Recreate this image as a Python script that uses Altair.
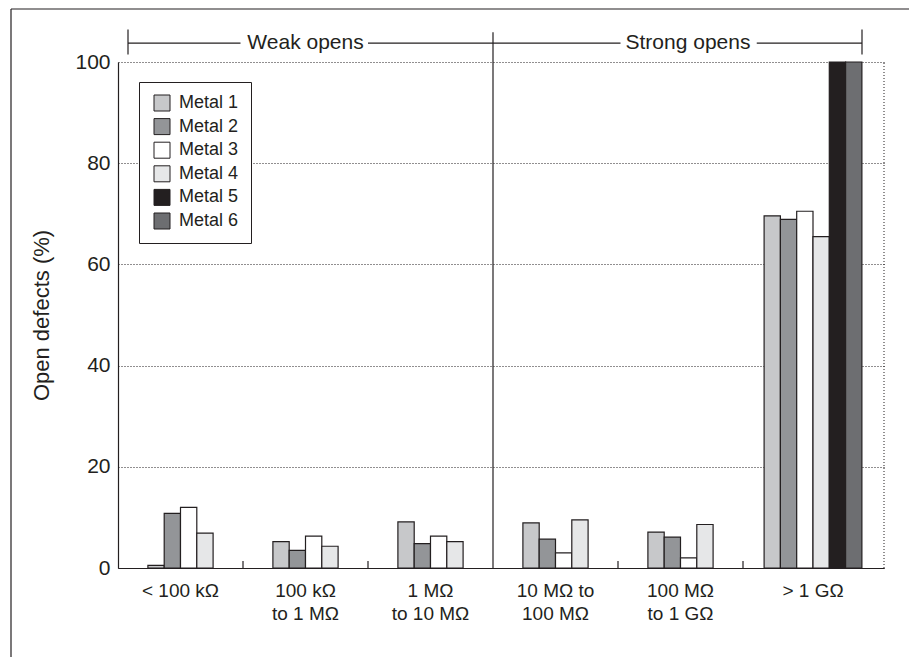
import altair as alt
import pandas as pd

# ---------------- data ----------------
categories = ["< 100 kΩ", "100 kΩ\nto 1 MΩ", "1 MΩ\nto 10 MΩ",
              "10 MΩ to\n100 MΩ", "100 MΩ\nto 1 GΩ", "> 1 GΩ"]
metals = ["Metal 1", "Metal 2", "Metal 3", "Metal 4", "Metal 5", "Metal 6"]
metal1 = [0.5, 5.2, 9.1, 8.9, 7.1, 69.6]
metal2 = [10.8, 3.5, 4.8, 5.7, 6.1, 68.9]
metal3 = [12.0, 6.3, 6.3, 3.0, 2.0, 70.5]
metal4 = [6.9, 4.3, 5.2, 9.5, 8.6, 65.5]
metal5 = [None, None, None, None, None, 100.0]
metal6 = [None, None, None, None, None, 100.0]
colors = ["#c7c8ca", "#939598", "#ffffff", "#e6e7e8", "#231f20", "#6d6e71"]
groups = ["Weak opens", "Strong opens"]
y_ticks = [0, 20, 40, 60, 80, 100]

# ---------------- layout ----------------
INK = "#231f20"
FONT = "Liberation Sans"
W, H = 766, 506
X_MAX = 6.128
centers = [0.5, 1.5, 2.5, 3.5, 4.5, 5.56]
bw = 0.1304

series = [metal1, metal2, metal3, metal4, metal5, metal6]
rows = []
for gi, cat in enumerate(categories):
    present = [(mi, s[gi]) for mi, s in enumerate(series) if s[gi] is not None]
    n = len(present)
    for k, (mi, v) in enumerate(present):
        x0 = centers[gi] + (k - n / 2) * bw
        rows.append({"cat": cat, "metal": metals[mi], "value": v,
                     "x0": x0, "x1": x0 + bw, "order": mi})
bars_df = pd.DataFrame(rows)

xscale = alt.Scale(domain=[0, X_MAX], nice=False, zero=False)
yscale = alt.Scale(domain=[0, 100], nice=False)

bars = alt.Chart(bars_df).mark_rect(stroke=INK, strokeWidth=1.2).encode(
    x=alt.X("x0:Q", scale=xscale,
            axis=alt.Axis(labels=False, ticks=False, grid=False, title=None,
                          domainColor=INK, domainWidth=1.2)),
    x2="x1:Q",
    y=alt.Y("value:Q", scale=yscale,
            axis=alt.Axis(values=y_ticks, grid=True, gridDash=[1, 2],
                          gridColor=INK, gridWidth=1, ticks=False,
                          domainColor=INK, domainWidth=1.2,
                          labelFontSize=21, labelPadding=8, labelColor=INK,
                          title="Open defects (%)", titleFontSize=22,
                          titleFontWeight="normal", titleColor=INK,
                          titleX=-77, titleY=H / 2, titleAngle=270,
                          titleBaseline="middle")),
    y2=alt.datum(0),
    color=alt.Color("metal:N", scale=alt.Scale(domain=metals, range=colors),
                    legend=alt.Legend(title=None, orient="none",
                                      legendX=21, legendY=20,
                                      fillColor="white", strokeColor=INK,
                                      padding=12, symbolType="square",
                                      symbolSize=256, symbolStrokeColor=INK,
                                      symbolStrokeWidth=1, symbolOpacity=1,
                                      symbolOffset=2,
                                      labelFontSize=18, labelColor=INK,
                                      labelOffset=8, rowPadding=3.6)),
)

# category labels
lab_df = pd.DataFrame({"cat": categories, "xc": centers})
labels = alt.Chart(lab_df).mark_text(
    baseline="top", align="center", fontSize=19, lineHeight=23,
    lineBreak="\n", color=INK
).encode(x=alt.X("xc:Q", scale=xscale), y=alt.value(H + 14), text="cat:N")

# inner group tick marks on x axis
tick_df = pd.DataFrame({"xt": [1, 2, 4, 5]})
ticks = alt.Chart(tick_df).mark_rule(color=INK, strokeWidth=1.2).encode(
    x=alt.X("xt:Q", scale=xscale), y=alt.value(H), y2=alt.value(H - 7))

# divider between weak and strong opens
divider = alt.Chart(pd.DataFrame({"xd": [3.0], "y0": [0], "y1": [105.9]})).mark_rule(
    color=INK, strokeWidth=1.2).encode(
    x=alt.X("xd:Q", scale=xscale), y=alt.Y("y0:Q", scale=yscale), y2="y1:Q")

# dotted right border
rborder = alt.Chart(pd.DataFrame({"xr": [X_MAX], "y0": [0], "y1": [100]})).mark_rule(
    color=INK, strokeWidth=1, strokeDash=[1, 2]).encode(
    x=alt.X("xr:Q", scale=xscale), y=alt.Y("y0:Q", scale=yscale), y2="y1:Q")

# bracket with group titles
seg_df = pd.DataFrame({"a": [0.08, 2.0, 5.11], "b": [0.98, 4.02, 5.952],
                       "y": [103.75] * 3})
segs = alt.Chart(seg_df).mark_rule(color=INK, strokeWidth=1.2).encode(
    x=alt.X("a:Q", scale=xscale), x2="b:Q", y=alt.Y("y:Q", scale=yscale))
cap_df = pd.DataFrame({"xc": [0.08, 5.952], "y0": [101.5, 101.5],
                       "y1": [106.4, 106.4]})
caps = alt.Chart(cap_df).mark_rule(color=INK, strokeWidth=1.2).encode(
    x=alt.X("xc:Q", scale=xscale), y=alt.Y("y0:Q", scale=yscale), y2="y1:Q")
grp_df = pd.DataFrame({"g": groups, "xg": [1.5, 4.56], "y": [103.75, 103.75]})
grp_text = alt.Chart(grp_df).mark_text(
    fontSize=21, color=INK, baseline="middle", align="center").encode(
    x=alt.X("xg:Q", scale=xscale), y=alt.Y("y:Q", scale=yscale), text="g:N")

# outer frame (top and left edges)
frame_top = alt.Chart(pd.DataFrame({"k": [0]})).mark_rule(
    color=INK, strokeWidth=1.2).encode(
    x=alt.value(-107), x2=alt.value(W + 40), y=alt.value(-53))
frame_left = alt.Chart(pd.DataFrame({"k": [0]})).mark_rule(
    color=INK, strokeWidth=1.2).encode(
    x=alt.value(-107), y=alt.value(-53), y2=alt.value(H + 100))

chart = alt.layer(
    rborder, bars, ticks, divider, segs, caps, grp_text, labels,
    frame_top, frame_left
).properties(
    width=W, height=H,
    autosize=alt.AutoSizeParams(type="none"),
    padding={"left": 110, "top": 54, "right": 25, "bottom": 89},
).configure(font=FONT).configure_view(stroke=None)

chart.save("out.html", embed_options={"renderer": "svg", "actions": False})
